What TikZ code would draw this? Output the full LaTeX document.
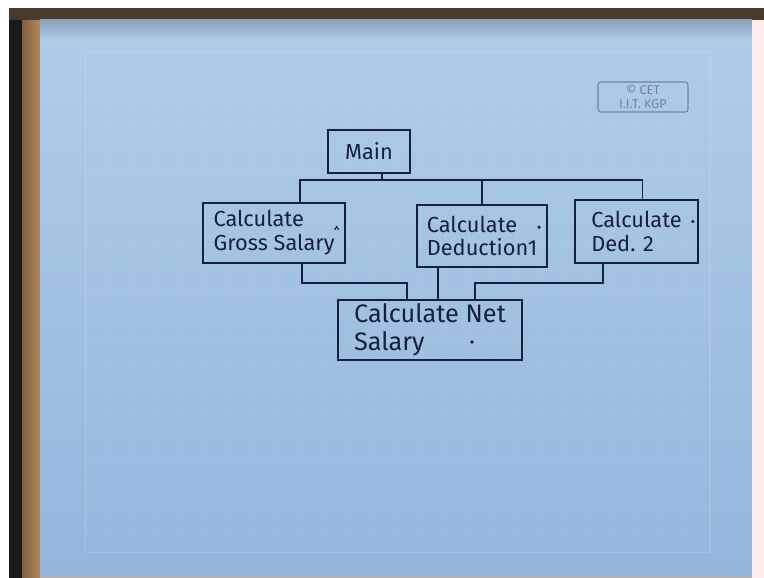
\documentclass[tikz,border=0pt]{standalone}
\usepackage{fontspec}
\setmainfont{Fira Sans}
\usepackage{xcolor}

\definecolor{ink}{RGB}{22,32,62}
\definecolor{paperhi}{RGB}{174,204,232}
\definecolor{paperlo}{RGB}{148,182,220}
\definecolor{papertop}{RGB}{140,160,185}
\definecolor{wood}{RGB}{176,136,92}
\definecolor{wooddark}{RGB}{130,95,62}
\definecolor{barbrown}{RGB}{72,58,44}
\definecolor{logo}{RGB}{112,132,162}

\tikzset{
  fnbox/.style={draw=ink, line width=1.2pt, text=ink, align=left, inner sep=2pt,
    font=\fontsize{15.5}{17}\selectfont},
  wire/.style={draw=ink, line width=1.2pt},
  gridline/.style={draw=white, opacity=.08, line width=.4pt},
}

\begin{document}
\begin{tikzpicture}[x=0.025cm, y=-0.025cm]
  \useasboundingbox (0,0) rectangle (764,578);
  \fill[white] (0,0) rectangle (764,578);
  \fill[black!90] (9,8) rectangle (22,578);
  \shade[left color=wooddark, right color=wood] (22,20) rectangle (40,578);
  \fill[barbrown] (9,8) rectangle (764,20);
  \shade[top color=paperhi, bottom color=paperlo] (40,40) rectangle (752,576);
  \shade[top color=papertop, bottom color=paperhi] (40,20) rectangle (752,40);
  \fill[red!8!white] (752,20) rectangle (764,578);
  \fill[gray!60] (40,576) rectangle (752,578);
  \draw[gridline, opacity=.14] (85,52) rectangle (710,552);
  \foreach \gx in {109,133,...,709} \draw[gridline] (\gx,52) -- (\gx,552);
  \foreach \gy in {76,100,...,551} \draw[gridline] (85,\gy) -- (710,\gy);

  \node[draw=logo, rounded corners=2pt, line width=.8pt, text=logo, align=center,
    font=\fontsize{9}{10}\selectfont, minimum width=2.25cm, minimum height=.75cm,
    inner sep=1pt] (cet) at (643,97) {© CET\\I.I.T. KGP};

  \node[fnbox, minimum width=2.05cm, minimum height=1.075cm] (main) at (369,151.5) {Main};
  \node[fnbox, minimum width=3.55cm, minimum height=1.5cm] (gross) at (274,233) {Calculate\\Gross Salary};
  \node[fnbox, minimum width=3.25cm, minimum height=1.55cm] (ded1) at (482,236) {Calculate\\Deduction1};
  \node[fnbox, minimum width=3.075cm, minimum height=1.575cm] (ded2) at (636.5,231.5) {Calculate\\Ded. 2};
  \node[fnbox, minimum width=4.6cm, minimum height=1.5cm,
    font=\fontsize{18}{20}\selectfont] (net) at (430,330) {Calculate Net\\Salary};

  \coordinate (bus) at (0,180);
  \coordinate (lowbus) at (0,283);
  \draw[wire] ([xshift=.33cm]main.south) -- ([xshift=.33cm]main.south |- bus);
  \draw[wire] ([xshift=.65cm]gross.north) |- ([xshift=.15cm]ded2.north |- bus) -- ([xshift=.15cm]ded2.north);
  \draw[wire] (ded1.north) -- (ded1.north |- bus);
  \draw[wire] ([xshift=.7cm]gross.south) |- ([xshift=-.575cm]net.north |- lowbus) -- ([xshift=-.575cm]net.north);
  \draw[wire] ([xshift=-1.1cm]ded1.south) -- ([xshift=-1.1cm]ded1.south |- net.north);
  \draw[wire] ([xshift=-.84cm]ded2.south) |- ([xshift=1.125cm]net.north |- lowbus) -- ([xshift=1.125cm]net.north);

  \draw[wire, line width=.8pt] ([xshift=-.28cm,yshift=.08cm]gross.east) -- ++(.05cm,.08cm) -- ++(.05cm,-.08cm);
  \fill[ink] ([xshift=-.22cm,yshift=.22cm]ded1.east) circle (1.3pt);
  \fill[ink] ([xshift=-.15cm,yshift=.25cm]ded2.east) circle (1.3pt);
  \fill[ink] ([xshift=1.05cm,yshift=-.3cm]net.center) circle (1.3pt);
\end{tikzpicture}
\end{document}
